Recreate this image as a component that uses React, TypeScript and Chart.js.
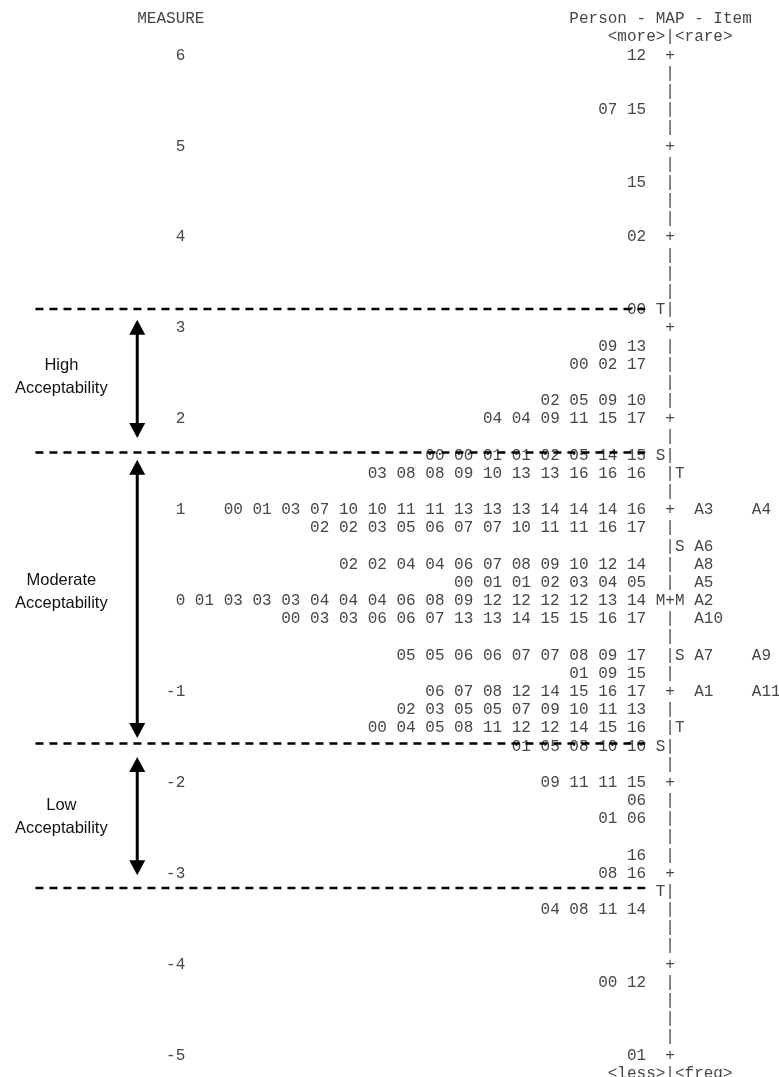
import { useEffect, useRef } from "react";
import { Chart, registerables } from "chart.js";

Chart.register(...registerables);

// ---- data ----
const measureTicks = [6, 5, 4, 3, 2, 1, 0, -1, -2, -3, -4, -5];
const topMeasure = 6;
const rowStep = 0.2; // five text rows per logit

// persons per text row, from measure 6 down to -5
const personRows = [
  "12", "", "", "07 15", "",
  "", "", "15", "", "",
  "02", "", "", "", "00",
  "", "09 13", "00 02 17", "", "02 05 09 10",
  "04 04 09 11 15 17", "", "00 00 01 01 02 05 14 15", "03 08 08 09 10 13 13 16 16 16", "",
  "00 01 03 07 10 10 11 11 13 13 13 14 14 14 16", "02 02 03 05 06 07 07 10 11 11 16 17", "", "02 02 04 04 06 07 08 09 10 12 14", "00 01 01 02 03 04 05",
  "01 03 03 03 04 04 04 06 08 09 12 12 12 12 13 14", "00 03 03 06 06 07 13 13 14 15 15 16 17", "", "05 05 06 06 07 07 08 09 17", "01 09 15",
  "06 07 08 12 14 15 16 17", "02 03 05 05 07 09 10 11 13", "00 04 05 08 11 12 12 14 15 16", "01 05 08 10 10", "",
  "09 11 11 15", "06", "01 06", "", "16",
  "08 16", "", "04 08 11 14", "", "",
  "", "00 12", "", "", "",
  "01",
];

const axisMarks = [
  "+", "|", "|", "|", "|",
  "+", "|", "|", "|", "|",
  "+", "|", "|", "|", "T|",
  "+", "|", "|", "|", "|",
  "+", "|", "S|", "|T", "|",
  "+", "|", "|S", "|", "|",
  "M+M", "|", "|", "|S", "|",
  "+", "|", "|T", "S|", "|",
  "+", "|", "|", "|", "|",
  "+", "T|", "|", "|", "|",
  "+", "|", "|", "|", "|",
  "+",
];

const itemRowIndex = [25, 27, 28, 29, 30, 31, 33, 35];
const itemRowLabels = [["A3", "A4"], ["A6"], ["A8"], ["A5"], ["A2"], ["A10"], ["A7", "A9"], ["A1", "A11"]];

const headerLeft = "MEASURE";
const headerRight = "Person - MAP - Item";
const headerTop = "<more>|<rare>";
const footerBottom = "<less>|<freq>";

// dashed cut lines (logits) and their horizontal extent (text columns)
const cutoffs = [3.2, 1.62, -1.58, -3.17];
const cutStartCol = -10.6;
const cutEndCol = 52.9;

// acceptability bands (double arrows)
const bandLabels = [["High", "Acceptability"], ["Moderate", "Acceptability"], ["Low", "Acceptability"]];
const bandTops = [3.08, 1.54, -1.73];
const bandBottoms = [1.78, -1.52, -3.03];
const bandLabelCenters = [2.456, 0.085, -2.39];
const arrowCol = 0;
const labelCol = -7.9;

// ---- layout constants ----
const W = 779;
const H = 1077;
const MONO = '16px "Liberation Mono", "Courier New", monospace';
const SANS = '16.5px "Liberation Sans", Arial, sans-serif';
const PERSON_END_COL = 53;
const AXIS_COL = 55;
const ITEM_COLS = [58, 64];

const textPlugin = {
  id: "wrightText",
  beforeDatasetsDraw(chart: any) {
    const { ctx, scales } = chart;
    const x = scales.x;
    const y = scales.y;
    const rowY = (i: number) => y.getPixelForValue(topMeasure - i * rowStep);
    const put = (s: string, col: number, py: number) => {
      ctx.fillText(s, x.getPixelForValue(col), py + 5.3);
    };
    ctx.save();
    ctx.font = MONO;
    ctx.fillStyle = "#474747";
    ctx.textAlign = "left";
    ctx.textBaseline = "alphabetic";
    put(headerLeft, 0, rowY(-2));
    put(headerRight, 45, rowY(-2));
    put(headerTop, 49, rowY(-1));
    put(footerBottom, 49, rowY(personRows.length));
    measureTicks.forEach((m) => {
      const s = String(m);
      put(s, 5 - s.length, y.getPixelForValue(m));
    });
    personRows.forEach((p, i) => {
      if (p) put(p, PERSON_END_COL - p.length, rowY(i));
    });
    axisMarks.forEach((a, i) => {
      const start = a[0] === "|" || a[0] === "+" ? AXIS_COL : AXIS_COL - 1;
      put(a, start, rowY(i));
    });
    itemRowIndex.forEach((ri, k) => {
      itemRowLabels[k].forEach((lab, j) => put(lab, ITEM_COLS[j], rowY(ri)));
    });
    ctx.restore();
  },
  afterDatasetsDraw(chart: any) {
    const { ctx, scales } = chart;
    const x = scales.x;
    const y = scales.y;
    ctx.save();
    ctx.fillStyle = "#000";
    const ax = x.getPixelForValue(arrowCol);
    const head = 15;
    const half = 8;
    bandTops.forEach((t, k) => {
      const ty = y.getPixelForValue(t);
      const by = y.getPixelForValue(bandBottoms[k]);
      ctx.beginPath();
      ctx.moveTo(ax, ty);
      ctx.lineTo(ax + half, ty + head);
      ctx.lineTo(ax - half, ty + head);
      ctx.closePath();
      ctx.fill();
      ctx.beginPath();
      ctx.moveTo(ax, by);
      ctx.lineTo(ax + half, by - head);
      ctx.lineTo(ax - half, by - head);
      ctx.closePath();
      ctx.fill();
    });
    ctx.font = SANS;
    ctx.fillStyle = "#111";
    ctx.textAlign = "center";
    ctx.textBaseline = "middle";
    const lx = x.getPixelForValue(labelCol);
    bandLabels.forEach((lines, k) => {
      const mid = y.getPixelForValue(bandLabelCenters[k]);
      const lh = 23;
      lines.forEach((ln, j) => {
        ctx.fillText(ln, lx, mid + (j - (lines.length - 1) / 2) * lh);
      });
    });
    ctx.restore();
  },
};

export default function App() {
  const ref = useRef<HTMLCanvasElement | null>(null);
  useEffect(() => {
    if (!ref.current) return;
    const datasets: any[] = [];
    cutoffs.forEach((c) => {
      datasets.push({
        data: [
          { x: cutStartCol, y: c },
          { x: cutEndCol, y: c },
        ],
        showLine: true,
        borderColor: "#000",
        borderWidth: 2.5,
        borderDash: [8, 6],
        borderCapStyle: "butt",
        pointRadius: 0,
        fill: false,
      });
    });
    bandTops.forEach((t, k) => {
      datasets.push({
        data: [
          { x: arrowCol, y: t - 0.1 },
          { x: arrowCol, y: bandBottoms[k] + 0.1 },
        ],
        showLine: true,
        borderColor: "#000",
        borderWidth: 3,
        pointRadius: 0,
        fill: false,
      });
    });
    const chart = new Chart(ref.current, {
      type: "scatter",
      data: { datasets },
      options: {
        animation: false,
        responsive: false,
        events: [],
        layout: { padding: 0 },
        plugins: { legend: { display: false }, tooltip: { enabled: false } },
        scales: {
          x: { type: "linear", display: false, min: -14.2917, max: 66.8333 },
          y: { type: "linear", display: false, min: -5.25, max: 6.598 },
        },
      },
      plugins: [textPlugin],
    } as any);
    return () => chart.destroy();
  }, []);
  return (
    <div style={{ position: "absolute", left: 0, top: 0, width: W, height: H, background: "#fff" }}>
      <canvas ref={ref} width={W} height={H} style={{ display: "block" }} />
    </div>
  );
}
